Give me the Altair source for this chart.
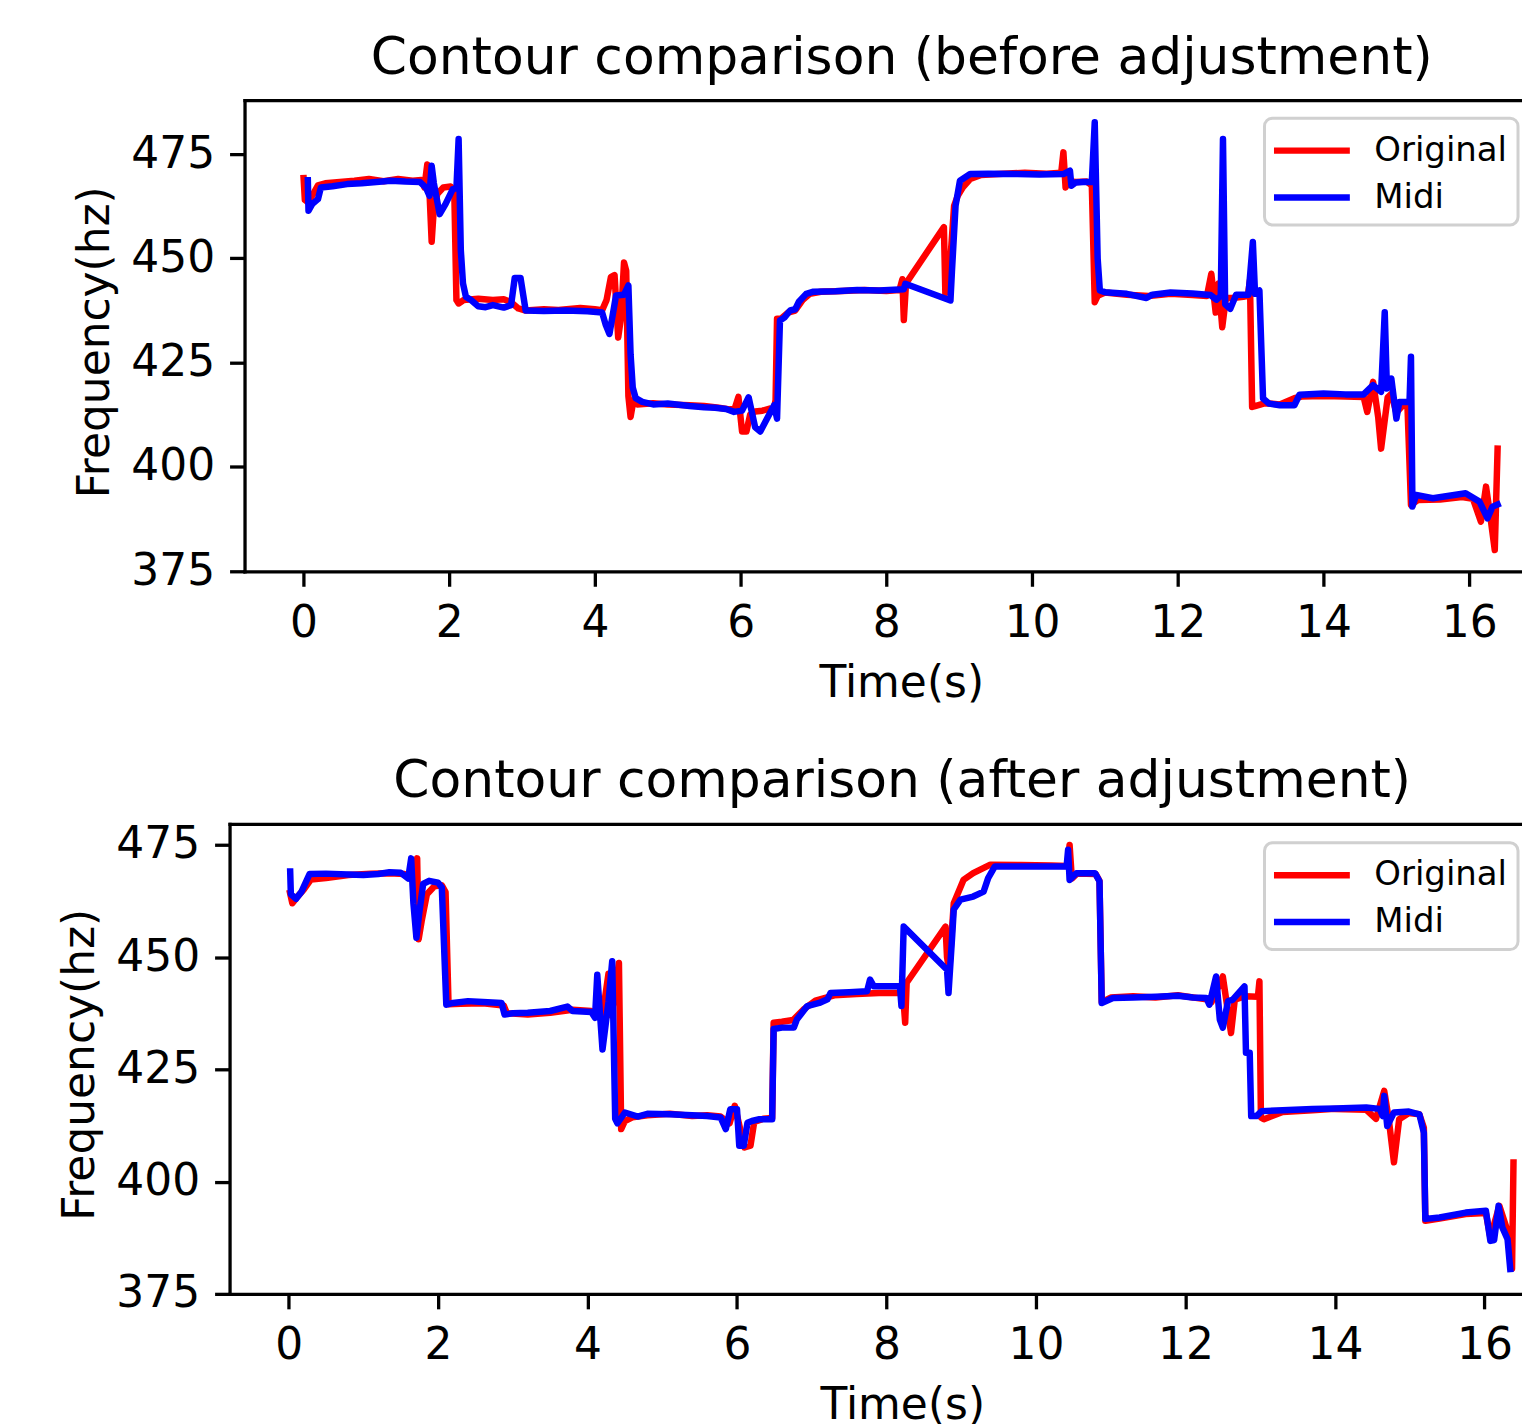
import altair as alt
import pandas as pd

# ---------------- data ----------------
top_orig_t = [0.0, 0.02, 0.06, 0.12, 0.2, 0.3, 0.5, 0.7, 0.9, 1.1, 1.3, 1.5, 1.62, 1.66, 1.70, 1.73, 1.76, 1.79, 1.84, 1.92,
              2.02, 2.07, 2.10, 2.13, 2.2, 2.4, 2.6, 2.75, 2.85, 2.95, 3.05, 3.3, 3.5, 3.8, 4.0, 4.1, 4.16, 4.22, 4.27, 4.32,
              4.36, 4.40, 4.43, 4.46, 4.49, 4.53, 4.58, 4.8, 5.0, 5.3, 5.5, 5.7, 5.85, 5.92, 5.97, 6.02, 6.08, 6.13, 6.2, 6.3,
              6.4, 6.45, 6.48, 6.5, 6.55, 6.65, 6.75, 6.85, 6.95, 7.1, 7.4, 7.7, 8.0, 8.18, 8.22, 8.24, 8.27, 8.79, 8.81, 8.86,
              8.9, 8.93, 8.98, 9.05, 9.15, 9.3, 9.6, 9.9, 10.2, 10.4, 10.43, 10.46, 10.5, 10.6, 10.75, 10.82, 10.86, 10.9, 11.0, 11.3,
              11.6, 11.9, 12.2, 12.4, 12.46, 12.52, 12.56, 12.61, 12.66, 12.75, 12.9, 12.96, 12.99, 13.02, 13.06, 13.2, 13.4, 13.6, 13.7, 14.0,
              14.3, 14.55, 14.6, 14.68, 14.75, 14.79, 14.88, 14.93, 15.0, 15.1, 15.15, 15.2, 15.3, 15.6, 15.9, 16.05, 16.16, 16.23, 16.29, 16.35,
              16.39]
top_orig_f = [470, 464, 463.5, 465, 467.5, 468, 468.3, 468.6, 469, 468.5, 469, 468.6, 468.8, 467, 472.5, 466, 454, 462, 465.5, 467,
              467.2, 466.5, 440, 439.2, 440, 440.3, 440, 440.2, 439.5, 438, 437.5, 437.8, 437.6, 438.1, 437.8, 437.6, 440, 445.5, 446, 431,
              436, 449, 447, 417, 412, 416, 415, 415.3, 415, 414.8, 414.6, 414.2, 413.8, 414, 416.8, 408.5, 408.5, 412.5, 413.3, 413.5,
              414, 413.5, 416, 435.5, 435.5, 437, 437.5, 440, 441.5, 442, 442.2, 442.4, 442.2, 442.4, 445, 435.2, 444, 457.5, 441.6, 445,
              455, 462.6, 465, 467, 469, 470, 470.3, 470.5, 470.3, 470.5, 475.4, 467, 468.5, 468.3, 468.4, 467.5, 439.5, 441, 441.8, 441.3,
              441, 441.5, 441.2, 441, 446.3, 437, 444, 433.5, 440.5, 440.5, 440.8, 441, 444.7, 414.4, 414.6, 415.3, 415, 416.5, 416.9, 417,
              416.9, 416.8, 413.2, 420.4, 412, 404.4, 416.7, 417.5, 413, 415, 415.5, 390.9, 392.1, 392.2, 392.8, 392.4, 386.9, 395.3, 388, 380.1,
              405.2]

top_midi_t = [0.06, 0.07, 0.12, 0.2, 0.24, 0.4, 0.6, 0.8, 1.0, 1.2, 1.4, 1.6, 1.68, 1.73, 1.76, 1.79, 1.87, 1.95, 2.05, 2.1,
              2.13, 2.16, 2.19, 2.23, 2.3, 2.4, 2.5, 2.6, 2.75, 2.85, 2.9, 2.98, 3.05, 3.3, 3.6, 3.9, 4.1, 4.15, 4.2, 4.26,
              4.29, 4.4, 4.46, 4.49, 4.52, 4.56, 4.65, 4.8, 5.0, 5.3, 5.5, 5.65, 5.8, 5.91, 6.02, 6.11, 6.2, 6.27, 6.36, 6.46,
              6.5, 6.54, 6.6, 6.68, 6.75, 6.8, 6.9, 7.0, 7.3, 7.6, 7.9, 8.24, 8.26, 8.88, 8.9, 8.95, 9.01, 9.15, 9.4, 9.8,
              10.1, 10.43, 10.52, 10.54, 10.6, 10.7, 10.82, 10.86, 10.9, 10.93, 11.0, 11.3, 11.57, 11.65, 11.9, 12.2, 12.45, 12.53, 12.59, 12.62,
              12.65, 12.72, 12.8, 12.97, 13.03, 13.06, 13.12, 13.17, 13.25, 13.4, 13.6, 13.67, 14.0, 14.3, 14.55, 14.68, 14.79, 14.84, 14.87, 14.93,
              15.0, 15.04, 15.18, 15.2, 15.22, 15.27, 15.5, 15.95, 16.14, 16.25, 16.32, 16.43]
top_midi_f = [469.5, 461.4, 463, 464.2, 467, 467.3, 467.8, 468, 468.3, 468.6, 468.4, 468.3, 467, 465, 472.2, 468, 460.6, 463, 466.6, 466.8,
              478.6, 452, 444, 440.8, 440, 438.5, 438.3, 438.8, 438.2, 438.8, 445.3, 445.3, 437.5, 437.4, 437.5, 437.3, 437.0, 434, 431.9, 438,
              441.1, 441.3, 443.5, 427, 419, 416.5, 415.6, 415, 415.2, 414.6, 414.3, 414.2, 413.9, 413.2, 413.5, 416.7, 409.5, 408.5, 411.5, 414.8,
              411.6, 435.1, 435.8, 437.5, 437.8, 439.6, 441.5, 442, 442.1, 442.4, 442.3, 442.6, 443.9, 439.9, 446.8, 462.6, 468.6, 470.2, 470.3, 470.2,
              470.1, 470.2, 471, 467.4, 468.2, 468.3, 468.3, 482.6, 450, 442.3, 441.9, 441.5, 440.5, 441.3, 441.8, 441.6, 441.2, 440.1, 441, 478.6,
              439, 437.9, 441.3, 441.3, 453.9, 441.5, 442.3, 416.4, 415.2, 414.8, 414.8, 417.3, 417.6, 417.4, 417.4, 419.6, 418, 437.1, 418.8, 421.2,
              411.6, 415.6, 415.6, 426.4, 390.5, 393.3, 392.5, 393.7, 391.7, 387.7, 390.5, 391.3]

bot_orig_t = [0.01, 0.05, 0.12, 0.2, 0.3, 0.5, 0.8, 1.1, 1.35, 1.55, 1.68, 1.72, 1.74, 1.78, 1.85, 1.95, 2.05, 2.1, 2.14, 2.3,
              2.6, 2.88, 2.92, 3.2, 3.5, 3.8, 4.05, 4.2, 4.28, 4.32, 4.42, 4.45, 4.5, 4.6, 4.8, 5.1, 5.4, 5.6, 5.78, 5.9,
              5.97, 6.1, 6.18, 6.23, 6.35, 6.47, 6.49, 6.6, 6.75, 6.9, 7.05, 7.3, 7.6, 7.9, 8.22, 8.25, 8.27, 8.79, 8.81, 8.84,
              8.9, 9.03, 9.16, 9.39, 9.8, 10.2, 10.42, 10.45, 10.48, 10.55, 10.8, 10.85, 10.88, 11.0, 11.3, 11.6, 11.9, 12.28, 12.35, 12.5,
              12.55, 12.61, 12.66, 12.8, 12.97, 12.99, 13.01, 13.05, 13.3, 13.7, 14.0, 14.42, 14.55, 14.66, 14.72, 14.79, 14.86, 14.99, 15.13, 15.19,
              15.21, 15.4, 15.75, 16.02, 16.08, 16.2, 16.3, 16.37, 16.39]
bot_orig_f = [465, 462, 463.5, 465, 467.3, 467.6, 468.3, 468.6, 468.7, 468.5, 467, 472, 454, 458, 464, 465.8, 466, 464.5, 439.5, 439.6,
              439.7, 439.2, 437.5, 437.2, 437.6, 438.3, 438, 437, 446.3, 437, 448.7, 411.7, 413.5, 414.3, 414.8, 415.1, 414.6, 414.8, 414.5, 413,
              416.9, 407.6, 408, 413.3, 414, 414.2, 435.4, 435.6, 436, 438.5, 440.3, 441.5, 441.8, 442, 442, 435.4, 444.3, 456.8, 450, 447,
              462, 467.2, 468.7, 470.6, 470.5, 470.4, 470.3, 475, 467.5, 468.6, 468.5, 467, 440, 441, 441.3, 441, 441.5, 440.6, 440, 445.7,
              440, 433.1, 440.5, 441.3, 441.2, 444.6, 414.3, 413.9, 415.5, 415.9, 416.2, 416, 414, 420.2, 414, 404.3, 413.9, 415.3, 415, 412,
              391.3, 391.8, 392.8, 393, 387.6, 394.6, 389.5, 380.6, 405]

bot_midi_t = [0.02, 0.03, 0.1, 0.17, 0.28, 0.5, 0.8, 1.0, 1.2, 1.35, 1.5, 1.6, 1.64, 1.67, 1.71, 1.75, 1.8, 1.88, 2.0, 2.05,
              2.11, 2.2, 2.4, 2.6, 2.85, 2.89, 3.0, 3.2, 3.5, 3.73, 3.8, 4.05, 4.1, 4.13, 4.2, 4.28, 4.33, 4.37, 4.4, 4.5,
              4.67, 4.8, 5.1, 5.4, 5.6, 5.78, 5.85, 5.91, 6.0, 6.03, 6.09, 6.14, 6.2, 6.3, 6.47, 6.49, 6.6, 6.76, 6.8, 6.94,
              7.1, 7.21, 7.25, 7.5, 7.74, 7.78, 7.83, 8.18, 8.2, 8.23, 8.81, 8.83, 8.88, 8.9, 8.99, 9.16, 9.3, 9.36, 9.45, 9.8,
              10.1, 10.41, 10.43, 10.45, 10.54, 10.79, 10.85, 10.88, 11.03, 11.3, 11.6, 11.9, 12.1, 12.28, 12.32, 12.41, 12.46, 12.5, 12.57, 12.63,
              12.79, 12.81, 12.86, 12.88, 12.95, 13.02, 13.3, 13.7, 14.0, 14.42, 14.6, 14.64, 14.66, 14.7, 14.79, 14.99, 15.13, 15.19, 15.21, 15.4,
              15.75, 16.02, 16.08, 16.13, 16.19, 16.24, 16.31, 16.35]
bot_midi_f = [469.8, 464, 463, 464.5, 468.5, 468.6, 468.4, 468.3, 468.5, 468.9, 468.8, 467.5, 472, 462, 454.3, 460, 466.3, 467, 466.6, 465.5,
              439.4, 439.8, 440.2, 440, 439.8, 437.2, 437.5, 437.6, 438, 439, 438, 437.8, 436.5, 446.1, 429.4, 440, 449.1, 414, 413, 415.4,
              414.5, 415.1, 415, 414.8, 414.6, 414.3, 411.7, 416.1, 416.1, 408, 408, 413.1, 413.5, 413.9, 413.9, 434, 434.3, 434.3, 436.1, 439.1,
              439.8, 440.6, 442, 442.2, 442.4, 445, 443.5, 443.5, 439.1, 456.8, 447.2, 442, 455, 460.6, 462.8, 463.5, 464.6, 467.6, 470.2, 470.2,
              470.2, 470.2, 473.9, 467.2, 468.7, 468.7, 466.9, 439.8, 440.9, 441, 441.2, 441.4, 441, 440.9, 439.4, 445.7, 436.1, 434.3, 440.2, 440.5,
              443.5, 428.7, 428.7, 414.6, 414.6, 415.7, 415.9, 416.2, 416.3, 416.5, 416.2, 414.6, 419.1, 412.4, 415.4, 415.6, 415, 410.9, 391.7, 392,
              393.1, 393.5, 386.8, 387, 394.6, 389.8, 387.2, 379.8]

series_names = ["Original", "Midi"]
series_colors = ["#ff0000", "#0000ff"]
x_ticks = [0, 2, 4, 6, 8, 10, 12, 14, 16]
y_ticks = [375, 400, 425, 450, 475]
titles = ["Contour comparison (before adjustment)", "Contour comparison (after adjustment)"]


def make_df(orig_t, orig_f, midi_t, midi_f):
    rows = []
    for i, (t, f) in enumerate(zip(orig_t, orig_f)):
        rows.append({"t": t, "f": f, "series": "Original", "i": i})
    for i, (t, f) in enumerate(zip(midi_t, midi_f)):
        rows.append({"t": t, "f": f, "series": "Midi", "i": i})
    return pd.DataFrame(rows)


FONT = "DejaVu Sans"
LINE_W = 3.3


def panel(df, title, xdom, ydom, w, h, legx, legy, title_dx, xtitle_x, ytitle_y):
    color = alt.Color(
        "series:N",
        scale=alt.Scale(domain=series_names, range=series_colors),
        legend=alt.Legend(
            title=None, orient="none", legendX=legx, legendY=legy,
            symbolType="M-2,0H2", symbolSize=1444, symbolStrokeWidth=6.5,
            labelFont=FONT, labelFontSize=34, labelColor="black", labelOffset=40,
            padding=10, rowPadding=7, fillColor="white", strokeColor="#d0d0d0",
            cornerRadius=8, symbolOffset=15,
        ),
    )
    xs = alt.Scale(domain=xdom, nice=False, zero=False)
    ys = alt.Scale(domain=ydom, nice=False, zero=False)
    yaxis = alt.Axis(values=y_ticks, format="d", title="Frequency(hz)",
                     titleX=-127, titleY=ytitle_y)
    red = alt.Chart(df).mark_line(strokeWidth=6.5, strokeJoin="round", clip=True).encode(
        x=alt.X("t:Q", scale=xs, axis=alt.Axis(values=x_ticks, format="d", title="Time(s)",
                                               titleX=xtitle_x, titleY=90)),
        y=alt.Y("f:Q", scale=ys, axis=yaxis),
        color=color,
        order="i:Q",
    ).transform_filter(alt.datum.series == "Original")
    blue = alt.Chart(df).mark_line(strokeWidth=6.5, strokeJoin="round", clip=True).encode(
        x=alt.X("t:Q", scale=xs, axis=alt.Axis(orient="top", labels=False, ticks=False, title=None)),
        y=alt.Y("f:Q", scale=ys, axis=yaxis),
        color=color,
        order="i:Q",
    ).transform_filter(alt.datum.series == "Midi")
    return alt.layer(red, blue).resolve_axis(x="independent").properties(
        width=w, height=h,
        title=alt.Title(title, font=FONT, fontSize=52, fontWeight="normal", color="black",
                        anchor="middle", frame="group", baseline="bottom", offset=-37,
                        dx=title_dx),
    )


def spacer(w):
    return alt.Chart(pd.DataFrame({"s": [0]})).mark_point(opacity=0).properties(width=w, height=1)


top_df = make_df(top_orig_t, top_orig_f, top_midi_t, top_midi_f)
bot_df = make_df(bot_orig_t, bot_orig_f, bot_midi_t, bot_midi_f)

# plot areas end at the right edge of the page
top = panel(top_df, titles[0], [-0.808, 16.71], [375, 487.9], 1279, 472, 1213, 18, 19, 658, 242)
bottom = panel(bot_df, titles[1], [-0.79, 16.49], [375, 479.7], 1294, 471, 1213, 19, 27, 674, 241)

row1 = alt.hconcat(spacer(19), top, spacing=0)
row2 = alt.hconcat(spacer(1), bottom, spacing=0)

chart = alt.vconcat(row1, row2, spacing=48).resolve_scale(
    color="independent").resolve_legend(color="independent").properties(
    padding={"left": 43, "top": 22, "right": 0, "bottom": 0},
    background="white",
).configure_view(stroke="transparent").configure_axis(
    labelFont=FONT, labelFontSize=44, labelColor="black",
    titleFont=FONT, titleFontSize=44, titleFontWeight="normal", titleColor="black",
    tickColor="black", tickWidth=LINE_W, tickSize=15, grid=False,
    domain=True, domainColor="black", domainWidth=LINE_W, domainCap="square",
    labelPadding=15,
).configure_legend(strokeWidth=3)

chart.save("out.html", embed_options={"renderer": "svg", "actions": False})
